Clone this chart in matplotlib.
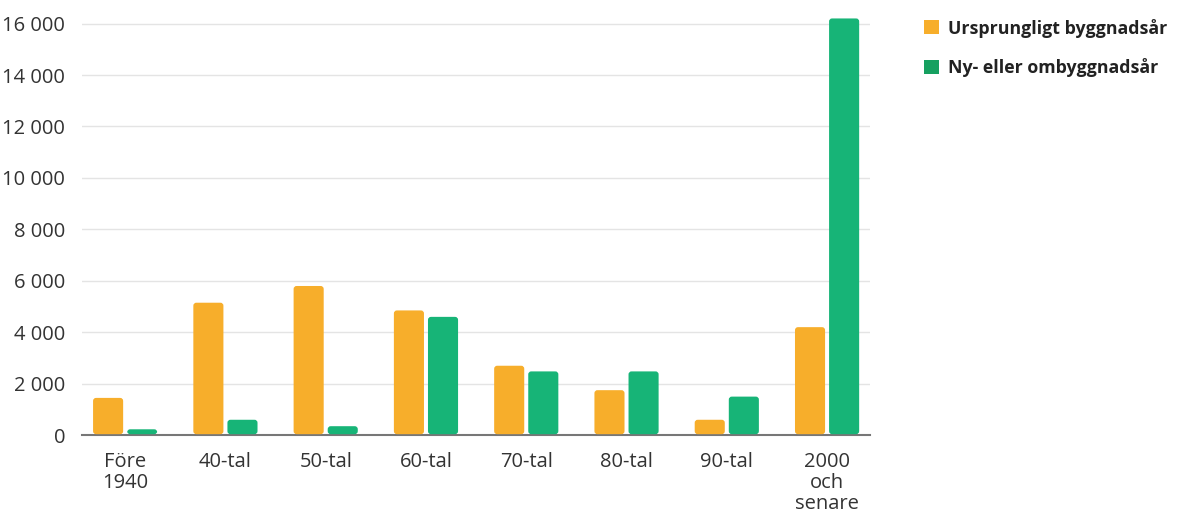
import matplotlib
matplotlib.use("Agg")
import matplotlib.pyplot as plt
from matplotlib.patches import FancyBboxPatch, Patch
from matplotlib.ticker import FuncFormatter
import numpy as np

plt.rcParams['font.family'] = ['Open Sans', 'DejaVu Sans']

kategorier = ["Före\n1940", "40-tal", "50-tal", "60-tal", "70-tal", "80-tal", "90-tal", "2000\noch\nsenare"]
ursprungligt = [1450, 5150, 5800, 4850, 2700, 1750, 600, 4200]
ny_ombyggnad = [230, 600, 350, 4600, 2480, 2480, 1500, 16200]
serie_namn = ["Ursprungligt byggnadsår", "Ny- eller ombyggnadsår"]

orange = "#F7AE2B"
gron = "#17B477"
gron_legend = "#16A060"

fig = plt.figure(figsize=(11.82, 5.12), dpi=100)
ax = fig.add_axes([0.0694, 0.150, 0.6668, 0.819])

x = np.arange(len(kategorier))
bredd = 0.30
staplar1 = ax.bar(x - 0.17, ursprungligt, bredd, color=orange)
staplar2 = ax.bar(x + 0.17, ny_ombyggnad, bredd, color=gron)

ax.set_xlim(-0.43, 7.43)
ax.set_ylim(0, 16300)

# rundade hörn: byt ut rektanglarna mot FancyBboxPatch med samma mått
for staplar in (staplar1, staplar2):
    for r in staplar:
        x0, y0 = r.get_x(), r.get_y()
        w, h = r.get_width(), r.get_height()
        r.set_visible(False)
        p = FancyBboxPatch((x0, y0 + 40), w, h - 40,
                           boxstyle="round,pad=0,rounding_size=0.03",
                           mutation_aspect=3900,
                           facecolor=r.get_facecolor(), edgecolor="none", zorder=3)
        ax.add_patch(p)

ax.set_yticks(np.arange(0, 16001, 2000))
ax.yaxis.set_major_formatter(FuncFormatter(lambda v, p: f"{int(v):,}".replace(",", " ")))
ax.set_xticks(x)
ax.set_xticklabels(kategorier, linespacing=1.08)

ax.grid(axis="y", color="#e4e4e4", linewidth=1)
ax.set_axisbelow(True)
for s in ["top", "right", "left"]:
    ax.spines[s].set_visible(False)
ax.spines["bottom"].set_color("#777777")
ax.spines["bottom"].set_linewidth(1.5)

ax.tick_params(axis="y", length=0, pad=12, labelsize=14.5, labelcolor="#333333")
ax.tick_params(axis="x", length=0, pad=12, labelsize=14.5, labelcolor="#333333")

handles = [Patch(facecolor=orange), Patch(facecolor=gron_legend)]
fig.legend(handles, serie_namn, loc="upper left", bbox_to_anchor=(0.768, 0.995),
           frameon=False, handlelength=0.85, handleheight=0.85, handletextpad=0.5,
           labelspacing=1.15, prop={"weight": "bold", "size": 12.8}, labelcolor="#222222")

fig.savefig("out.png", dpi=100)
